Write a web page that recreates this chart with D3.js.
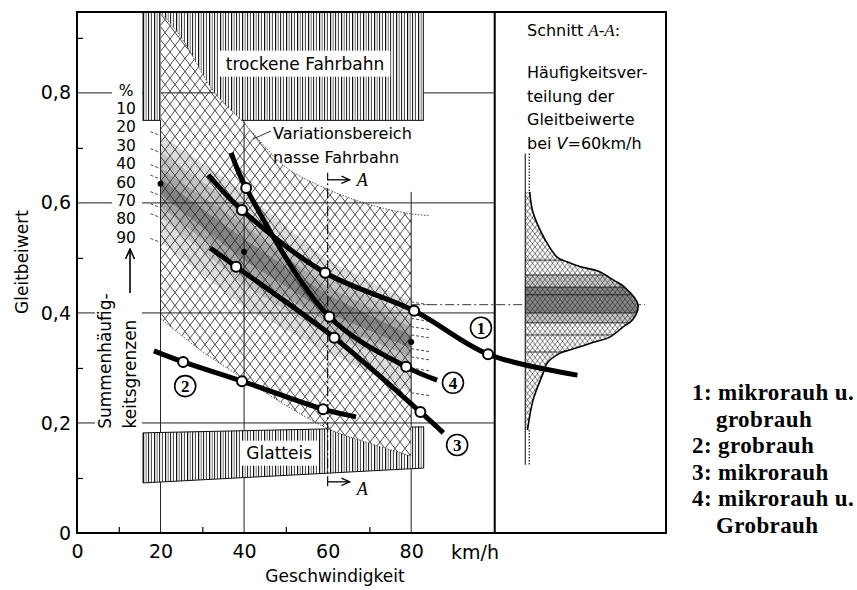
<!DOCTYPE html>
<html>
<head>
<meta charset="utf-8">
<script src="https://cdn.jsdelivr.net/npm/d3@7"></script>
<style>body{margin:0;background:#fff}</style>
</head>
<body>
<script>
// ---- data ----
var xTicks = [0, 20, 40, 60, 80];
var yTicks = [0, 0.2, 0.4, 0.6, 0.8];
var xMinor = [10, 30, 50, 70];
var yMinor = [0.1, 0.3, 0.5, 0.7, 0.9];

// wet road range (Variationsbereich nasse Fahrbahn)
var wetUpper = [[20, 0.947], [25, 0.9], [33, 0.8], [40, 0.745], [50, 0.665], [60, 0.625], [70, 0.597], [80, 0.58]];
var wetLower = [[20, 0.39], [30, 0.33], [40, 0.28], [50, 0.232], [60, 0.19], [70, 0.163], [80, 0.14]];

// Summenhaeufigkeitsgrenzen (percent levels) at 20/40/60/80 km/h
var pctLevels = ["10", "20", "30", "40", "60", "70", "80", "90"];
var pctSpeeds = [20, 40, 60, 80];
var pctAt20 = [0.724, 0.693, 0.664, 0.645, 0.615, 0.593, 0.575, 0.53];
var pctAt40 = [0.62, 0.585, 0.56, 0.535, 0.495, 0.475, 0.45, 0.41];
var pctAt60 = [0.496, 0.469, 0.447, 0.433, 0.40, 0.382, 0.36, 0.329];
var pctAt80 = [0.42, 0.39, 0.375, 0.36, 0.335, 0.32, 0.30, 0.255];
var medians = [[20, 0.635], [40, 0.511], [80, 0.347]];

// dry road and black ice areas
var dryRoad = {from: 15.8, to: 82.9, mu: 0.75};
var iceArea = [[15.8, 0.182], [83, 0.193], [83, 0.118], [15.8, 0.091]];

// measured curves: line path + measured points
var line1 = [[31.4, 0.651], [39.5, 0.587], [59.4, 0.473], [80.7, 0.404], [98.4, 0.325], [119.8, 0.287]];
var pts1 = [[39.5, 0.587], [59.4, 0.473], [80.7, 0.404], [98.4, 0.325]];
var line2 = [[18.4, 0.331], [25.4, 0.311], [39.5, 0.276], [58.9, 0.225], [66.8, 0.211]];
var pts2 = [[25.4, 0.311], [39.5, 0.276], [58.9, 0.225]];
var line3 = [[31.9, 0.518], [38.1, 0.484], [61.6, 0.355], [82.2, 0.22], [87.7, 0.182]];
var pts3 = [[38.1, 0.484], [61.6, 0.355], [82.2, 0.22]];
var line4 = [[36.9, 0.691], [40.5, 0.627], [60.4, 0.393], [78.8, 0.302], [86.2, 0.278]];
var pts4 = [[40.5, 0.627], [60.4, 0.393], [78.8, 0.302]];
var curveTags = [["1", 96.7, 0.373], ["2", 25.9, 0.267], ["3", 91, 0.16], ["4", 90, 0.273]];

// section A-A: distribution at 60 km/h (relative density)
var sectionMu = [0.62, 0.582, 0.533, 0.502, 0.493, 0.484, 0.475, 0.46, 0.447, 0.415, 0.387, 0.375, 0.356, 0.345, 0.333, 0.327, 0.309, 0.291, 0.242, 0.187];
var sectionDensity = [0.04, 0.07, 0.177, 0.28, 0.37, 0.49, 0.66, 0.78, 0.88, 1, 0.95, 0.87, 0.75, 0.58, 0.40, 0.31, 0.195, 0.16, 0.07, 0.02];
var sectionMean = 0.415;

var legendNums = ["1", "2", "3", "4"];
var legendNames = [["mikrorauh u.", "grobrauh"], ["grobrauh"], ["mikrorauh"], ["mikrorauh u.", "Grobrauh"]];

// ---- drawing ----
var W = 857, H = 590;
var sans = "'DejaVu Sans', sans-serif";
var serif = "'Liberation Serif', 'DejaVu Serif', serif";

var svg = d3.select("body").append("svg")
    .attr("width", W).attr("height", H)
    .style("font-family", sans);

var x = d3.scaleLinear().domain([0, 141]).range([77, 666]);
var y = d3.scaleLinear().domain([0, 0.947]).range([533, 12]);

var defs = svg.append("defs");

// vertical hatch
var vh = defs.append("pattern").attr("id", "vhatch")
    .attr("patternUnits", "userSpaceOnUse").attr("width", 11).attr("height", 10);
vh.append("rect").attr("width", 11).attr("height", 10).attr("fill", "#fff");
[[0.6, 1.2], [3.2, 0.6], [5.6, 1], [8.4, 0.8]].forEach(function(l) {
  vh.append("line").attr("x1", l[0]).attr("x2", l[0]).attr("y1", 0).attr("y2", 10)
    .attr("stroke", "#111").attr("stroke-width", l[1]);
});

// cross hatch (coarse and fine)
function crossPattern(id, w, h, sw) {
  var p = defs.append("pattern").attr("id", id)
      .attr("patternUnits", "userSpaceOnUse").attr("width", w).attr("height", h);
  p.append("path").attr("d", "M0,0L" + w + "," + h + "M" + w + ",0L0," + h)
    .attr("stroke", "#111").attr("stroke-width", sw).attr("fill", "none");
}
crossPattern("xhatch", 10, 13, 0.75);
crossPattern("xfine", 5, 6.5, 0.55);

// arrow head
defs.append("marker").attr("id", "arr").attr("viewBox", "0 0 10 10")
    .attr("refX", 9).attr("refY", 5).attr("markerWidth", 7).attr("markerHeight", 7)
    .attr("orient", "auto-start-reverse")
  .append("path").attr("d", "M0,1L9,5L0,9").attr("fill", "none").attr("stroke", "#000").attr("stroke-width", 1.4);

var lineGen = d3.line().x(function(d) { return x(d[0]); }).y(function(d) { return y(d[1]); })
    .curve(d3.curveCatmullRom);
var linGen = d3.line().x(function(d) { return x(d[0]); }).y(function(d) { return y(d[1]); });

var wetD = lineGen(wetUpper) + "L" + lineGen(wetLower.slice().reverse()).slice(1) + "Z";

// grid mask: hide grid behind the boxes unless the wet range is on top
var mask = defs.append("mask").attr("id", "gridMask").attr("maskUnits", "userSpaceOnUse")
    .attr("x", 0).attr("y", 0).attr("width", W).attr("height", H);
mask.append("rect").attr("width", W).attr("height", H).attr("fill", "#fff");
mask.append("rect").attr("x", x(dryRoad.from)).attr("y", y(0.947))
    .attr("width", x(dryRoad.to) - x(dryRoad.from)).attr("height", y(dryRoad.mu) - y(0.947)).attr("fill", "#000");
mask.append("path").attr("d", linGen(iceArea) + "Z").attr("fill", "#000");
mask.append("path").attr("d", wetD).attr("fill", "#fff");

// dry road box
svg.append("rect")
    .attr("x", x(dryRoad.from)).attr("y", y(0.947))
    .attr("width", x(dryRoad.to) - x(dryRoad.from)).attr("height", y(dryRoad.mu) - y(0.947))
    .attr("fill", "url(#vhatch)").attr("stroke", "#111").attr("stroke-width", 1);

// black ice box
svg.append("path").attr("d", linGen(iceArea) + "Z")
    .attr("fill", "url(#vhatch)").attr("stroke", "#111").attr("stroke-width", 1);

// wet road range
svg.append("path").attr("d", wetD).attr("fill", "#fff");
svg.append("path").attr("d", wetD).attr("fill", "url(#xhatch)");
svg.append("path").attr("d", lineGen(wetUpper.concat([[84.5, 0.577]])))
    .attr("fill", "none").attr("stroke", "#444").attr("stroke-width", 0.9).attr("stroke-dasharray", "1.5,1.5");
svg.append("path").attr("d", lineGen(wetLower))
    .attr("fill", "none").attr("stroke", "#444").attr("stroke-width", 0.9).attr("stroke-dasharray", "1.5,1.5");

// percentile shading
var pctBySpeed = [pctAt20, pctAt40, pctAt60, pctAt80];
var bandShade = [0.15, 0.27, 0.4, 0.56, 0.4, 0.27, 0.15];
bandShade.forEach(function(op, k) {
  var up = pctSpeeds.map(function(s, j) { return [s, pctBySpeed[j][k]]; });
  var lo = pctSpeeds.map(function(s, j) { return [s, pctBySpeed[j][k + 1]]; }).reverse();
  svg.append("path").attr("d", linGen(up) + "L" + linGen(lo).slice(1) + "Z")
      .attr("fill", "#222").attr("fill-opacity", op);
});
// leader dashes at both ends of the band
pctAt20.forEach(function(p) {
  svg.append("line").attr("x1", x(17.6)).attr("y1", y(p) - 3).attr("x2", x(20)).attr("y2", y(p) + 1)
      .attr("stroke", "#333").attr("stroke-width", 0.9).attr("stroke-dasharray", "3,2");
});
pctAt80.forEach(function(p) {
  svg.append("line").attr("x1", x(80)).attr("y1", y(p)).attr("x2", x(84.5)).attr("y2", y(p) + 3)
      .attr("stroke", "#333").attr("stroke-width", 0.9).attr("stroke-dasharray", "3,2");
});

// grid
var grid = svg.append("g").attr("mask", "url(#gridMask)")
    .attr("stroke", "#222").attr("stroke-width", 1);
yTicks.slice(1).forEach(function(v) {
  grid.append("line").attr("x1", x(0)).attr("x2", x(100)).attr("y1", y(v)).attr("y2", y(v));
});
[[20, 0.947], [40, 0.947], [80, 0.62]].forEach(function(g) {
  grid.append("line").attr("x1", x(g[0])).attr("x2", x(g[0])).attr("y1", y(0)).attr("y2", y(g[1]));
});

// section line A-A at 60 km/h
svg.append("line").attr("x1", x(60)).attr("x2", x(60)).attr("y1", y(0.085)).attr("y2", y(0.655))
    .attr("stroke", "#111").attr("stroke-width", 1.2).attr("stroke-dasharray", "10,3,2,3");
[0.642, 0.093].forEach(function(v) {
  svg.append("line").attr("x1", x(60)).attr("x2", x(60) + 22).attr("y1", y(v)).attr("y2", y(v))
      .attr("stroke", "#000").attr("stroke-width", 1.3).attr("marker-end", "url(#arr)");
  svg.append("text").attr("x", x(60) + 29).attr("y", y(v) + (v > 0.5 ? 6 : 13))
      .attr("font-family", serif).attr("font-style", "italic").attr("font-size", 18).text("A");
});

// mean line into section
svg.append("line").attr("x1", x(80)).attr("x2", x(136)).attr("y1", y(sectionMean)).attr("y2", y(sectionMean))
    .attr("stroke", "#222").attr("stroke-width", 0.9).attr("stroke-dasharray", "9,3,2,3");

// medians
svg.selectAll(".med").data(medians).enter().append("circle")
    .attr("cx", function(d) { return x(d[0]); }).attr("cy", function(d) { return y(d[1]); })
    .attr("r", 3).attr("fill", "#000");

// ---- section distribution ----
var dens = d3.scaleLinear().domain(sectionMu).range(sectionDensity);
var distX = d3.scaleLinear().domain([0, 1]).range([x(107.3), x(134.3)]);
var base = distX(0);
var prof = sectionMu.map(function(m, i) { return [distX(sectionDensity[i]), y(m)]; });
var profD = "M" + base + "," + y(sectionMu[0]) + "L" +
    d3.line().curve(d3.curveCatmullRom)(prof).slice(1) + "L" + base + "," + y(sectionMu[sectionMu.length - 1]) + "Z";
defs.append("clipPath").attr("id", "distClip").append("path").attr("d", profD);
svg.append("path").attr("d", profD).attr("fill", "#fff");
svg.append("path").attr("d", profD).attr("fill", "url(#xfine)");
var dc = svg.append("g").attr("clip-path", "url(#distClip)");
dc.append("rect").attr("x", base).attr("width", 120).attr("y", y(pctAt60[1])).attr("height", y(pctAt60[5]) - y(pctAt60[1]))
    .attr("fill", "#222").attr("fill-opacity", 0.25);
dc.append("rect").attr("x", base).attr("width", 120).attr("y", y(pctAt60[2])).attr("height", y(pctAt60[4]) - y(pctAt60[2]))
    .attr("fill", "#222").attr("fill-opacity", 0.4);
pctAt60.forEach(function(p) {
  dc.append("line").attr("x1", base).attr("x2", distX(dens(p))).attr("y1", y(p)).attr("y2", y(p))
      .attr("stroke", "#111").attr("stroke-width", 0.8);
});
svg.append("path").attr("d", d3.line().curve(d3.curveCatmullRom)(prof))
    .attr("fill", "none").attr("stroke", "#000").attr("stroke-width", 1.6);
svg.append("line").attr("x1", base).attr("x2", base).attr("y1", y(0.124)).attr("y2", y(0.69))
    .attr("stroke", "#000").attr("stroke-width", 1);
[[0.69, 0.62], [0.187, 0.124]].forEach(function(r) {
  svg.append("line").attr("x1", base + 4).attr("x2", base + 4).attr("y1", y(r[0])).attr("y2", y(r[1]))
      .attr("stroke", "#000").attr("stroke-width", 1.1).attr("stroke-dasharray", "1.5,1.5");
});

// ---- curves ----
var lines = [line1, line2, line3, line4];
var pts = [pts1, pts2, pts3, pts4];
lines.forEach(function(l) {
  svg.append("path").attr("d", lineGen(l)).attr("fill", "none")
      .attr("stroke", "#000").attr("stroke-width", 5).attr("stroke-linecap", "butt");
});
pts.forEach(function(p) {
  svg.selectAll(null).data(p).enter().append("circle")
      .attr("cx", function(d) { return x(d[0]); }).attr("cy", function(d) { return y(d[1]); })
      .attr("r", 5).attr("fill", "#fff").attr("stroke", "#000").attr("stroke-width", 2);
});
curveTags.forEach(function(t) {
  var g = svg.append("g").attr("transform", "translate(" + x(t[1]) + "," + y(t[2]) + ")");
  g.append("circle").attr("r", 10.5).attr("fill", "#fff").attr("stroke", "#000").attr("stroke-width", 1.6);
  g.append("text").attr("text-anchor", "middle").attr("y", 6).attr("font-family", serif)
      .attr("font-weight", "bold").attr("font-size", 17).text(t[0]);
});

// ---- labels with white background ----
function boxedText(cx, cy, txt, size, pad) {
  var g = svg.append("g");
  var t = g.append("text").attr("x", cx).attr("y", cy).attr("text-anchor", "middle")
      .attr("dy", "0.35em").attr("font-size", size).text(txt);
  var b = t.node().getBBox();
  g.insert("rect", "text").attr("x", b.x - pad).attr("y", b.y - pad / 2)
      .attr("width", b.width + 2 * pad).attr("height", b.height + pad).attr("fill", "#fff");
}
boxedText(x(54.6), y(0.853), "trockene Fahrbahn", 17, 6);
boxedText(x(48.4), y(0.145), "Glatteis", 17, 5);

svg.append("text").attr("x", 273).attr("y", 139).attr("font-size", 16).text("Variationsbereich");
svg.append("text").attr("x", 273).attr("y", 163).attr("font-size", 16).text("nasse Fahrbahn");
svg.append("line").attr("x1", 253).attr("y1", 139).attr("x2", 271).attr("y2", 131)
    .attr("stroke", "#222").attr("stroke-width", 0.9);

// percent column
svg.append("rect").attr("x", 112).attr("y", 80).attr("width", 30).attr("height", 166).attr("fill", "#fff");
svg.append("rect").attr("x", 95).attr("y", 290).attr("width", 47).attr("height", 143).attr("fill", "#fff");
["%"].concat(pctLevels).forEach(function(s, i) {
  svg.append("text").attr("x", 126).attr("y", 90 + i * 18.4).attr("dy", "0.36em")
      .attr("text-anchor", "middle").attr("font-size", 15.5).text(s);
});
svg.append("line").attr("x1", 130).attr("x2", 130).attr("y1", 293).attr("y2", 249)
    .attr("stroke", "#000").attr("stroke-width", 1.6).attr("marker-end", "url(#arr)");
svg.append("text").attr("transform", "translate(105,361) rotate(-90)").attr("text-anchor", "middle")
    .attr("dy", "0.35em").attr("font-size", 17).text("Summenhäufig-");
svg.append("text").attr("transform", "translate(130,374) rotate(-90)").attr("text-anchor", "middle")
    .attr("dy", "0.35em").attr("font-size", 17).text("keitsgrenzen");

// section header
var sh = svg.append("text").attr("x", 527).attr("y", 36).attr("font-size", 16);
sh.append("tspan").text("Schnitt ");
sh.append("tspan").attr("font-family", serif).attr("font-style", "italic").attr("font-size", 17).text("A-A");
sh.append("tspan").text(":");
["Häufigkeitsver-", "teilung der", "Gleitbeiwerte"].forEach(function(s, i) {
  svg.append("text").attr("x", 527).attr("y", 78 + i * 23.5).attr("font-size", 16).text(s);
});
var bv = svg.append("text").attr("x", 527).attr("y", 148.5).attr("font-size", 16);
bv.append("tspan").text("bei ");
bv.append("tspan").attr("font-style", "italic").text("V");
bv.append("tspan").text("=60km/h");

// ---- axes and frame ----
var yAx = svg.append("g").attr("transform", "translate(" + x(0) + ",0)")
    .call(d3.axisLeft(y).tickValues(yTicks).tickSize(0).tickPadding(6)
      .tickFormat(function(d) { return d === 0 ? "0" : d3.format(".1f")(d).replace(".", ","); }));
yAx.select(".domain").remove();
yAx.selectAll("text").attr("font-size", 19).attr("font-family", sans).attr("fill", "#000");

var xAx = svg.append("g").attr("transform", "translate(0," + y(0) + ")")
    .call(d3.axisBottom(x).tickValues(xTicks).tickSize(0).tickPadding(12));
xAx.select(".domain").remove();
xAx.selectAll("text").attr("font-size", 19).attr("font-family", sans).attr("fill", "#000");
svg.append("text").attr("x", 475).attr("y", 559).attr("text-anchor", "middle").attr("font-size", 19).text("km/h");

var mY = svg.append("g").attr("transform", "translate(" + x(0) + ",0)")
    .call(d3.axisRight(y).tickValues(yMinor).tickSize(6).tickFormat(""));
mY.select(".domain").remove();
mY.selectAll("line").attr("stroke-width", 1.2);
var mX = svg.append("g").attr("transform", "translate(0," + y(0) + ")")
    .call(d3.axisTop(x).tickValues(xMinor).tickSize(6).tickFormat(""));
mX.select(".domain").remove();
mX.selectAll("line").attr("stroke-width", 1.2);

svg.append("rect").attr("x", x(0)).attr("y", y(0.947)).attr("width", x(141) - x(0)).attr("height", y(0) - y(0.947))
    .attr("fill", "none").attr("stroke", "#000").attr("stroke-width", 2);
svg.append("line").attr("x1", x(100)).attr("x2", x(100)).attr("y1", y(0.947)).attr("y2", y(0))
    .attr("stroke", "#000").attr("stroke-width", 2);

svg.append("text").attr("transform", "translate(22,262) rotate(-90)").attr("text-anchor", "middle")
    .attr("dy", "0.35em").attr("font-size", 17).text("Gleitbeiwert");
svg.append("text").attr("x", 335).attr("y", 582).attr("text-anchor", "middle").attr("font-size", 17).text("Geschwindigkeit");

// ---- legend ----
var row = 0;
legendNames.forEach(function(names, i) {
  names.forEach(function(n, j) {
    svg.append("text").attr("x", j === 0 ? 692 : 716).attr("y", 400 + row * 26.6)
        .attr("font-family", serif).attr("font-weight", "bold").attr("font-size", 23)
        .attr("letter-spacing", 0.4)
        .text(j === 0 ? legendNums[i] + ": " + n : n);
    row++;
  });
});
</script>
</body>
</html>
